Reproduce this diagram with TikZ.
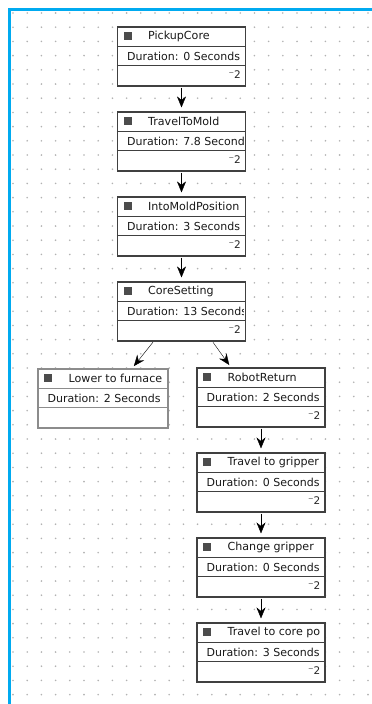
\documentclass[tikz,border=0pt]{standalone}
\usepackage{fontspec}
\setmainfont{DejaVu Sans}
\usetikzlibrary{arrows.meta}

\definecolor{frameblue}{RGB}{0,170,240}

\tikzset{
  task/.style={rectangle, draw=black!75, line width=1.1pt, fill=white,
               minimum width=128pt, minimum height=59pt, inner sep=0pt},
  tasktitle/.style={anchor=west, inner sep=0pt, text=black!90,
                    font=\fontsize{11.1}{11.1}\selectfont},
  taskdur/.style={anchor=west, inner sep=0pt, text=black!90,
                  font=\fontsize{11}{11}\selectfont},
  rowline/.style={draw=black!75, line width=0.9pt},
  cornermark/.style={anchor=east, inner sep=0pt, text=black!85,
                     font=\fontsize{10.5}{10.5}\selectfont},
}

% task box: [options]{name}{position}{title}{duration}{corner mark}
\newcommand\taskbox[6][]{%
  \node (#2) at (#3) [task,#1] {};
  \begin{scope}
    \clip ([xshift=1pt,yshift=-1pt]#2.north west) rectangle ([xshift=-3pt,yshift=1pt]#2.south east);
    \node [tasktitle] at ([xshift=31pt,yshift=-10pt]#2.north west) {#4};
    \node [taskdur]   at ([xshift=10pt,yshift=-29.5pt]#2.north west) {#5};
  \end{scope}
  \draw [rowline,#1] ([yshift=-20pt]#2.north west) -- ([yshift=-20pt]#2.north east);
  \draw [rowline,#1] ([yshift=-39pt]#2.north west) -- ([yshift=-39pt]#2.north east);
  \fill [black!70] ([xshift=7pt,yshift=-6pt]#2.north west) rectangle +(8pt,-8pt);
  \node [cornermark] at ([xshift=-5pt,yshift=-48pt]#2.north east) {#6};
}

\begin{document}
\begin{tikzpicture}
        [x=1pt, y=-1pt, >={Stealth[length=11pt,width=9pt]}]
        \useasboundingbox [fill=white] (0,0) rectangle (372,704);
        % dotted grid
        \foreach \i in {0,...,25}
          \foreach \j in {0,...,48}
            \fill [black!30] (13+14.2*\i,13+14.2*\j) circle (0.9pt);
        \draw [frameblue, line width=3pt] (9,706) -- (9,9) -- (374,9);

        \taskbox{pickup}{181.5,56.5}{PickupCore}{Duration: 0 Seconds}{⁻2}
        \taskbox{tomold}{181.5,141.5}{TravelToMold}{Duration: 7.8 Seconds}{⁻2}
        \taskbox{intomold}{181.5,226.5}{IntoMoldPosition}{Duration: 3 Seconds}{⁻2}
        \taskbox{coreset}{181.5,311.5}{CoreSetting}{Duration: 13 Seconds}{⁻2}
        \taskbox[draw=black!45, minimum width=130pt]{lower}{103,398.5}{Lower to furnace}{Duration: 2 Seconds}{}
        \taskbox{robotret}{261,397.5}{RobotReturn}{Duration: 2 Seconds}{⁻2}
        \taskbox{togripper}{261,482.5}{Travel to gripper}{Duration: 0 Seconds}{⁻2}
        \taskbox{chgripper}{261,567.5}{Change gripper}{Duration: 0 Seconds}{⁻2}
        \taskbox{tocore}{261,652.5}{Travel to core po}{Duration: 3 Seconds}{⁻2}

        \draw [->, shorten >=4pt, shorten <=1pt] (pickup) -- (tomold);
        \draw [->, shorten >=4pt, shorten <=1pt] (tomold) -- (intomold);
        \draw [->, shorten >=4pt, shorten <=1pt] (intomold) -- (coreset);
        \draw [->, shorten >=3pt, shorten <=1pt] ([xshift=-28pt]coreset.south) -- ([xshift=29pt]lower.north);
        \draw [->, shorten >=3pt, shorten <=1pt] ([xshift=31pt]coreset.south) -- ([xshift=-30pt]robotret.north);
        \draw [->, shorten >=4pt, shorten <=1pt] (robotret) -- (togripper);
        \draw [->, shorten >=4pt, shorten <=1pt] (togripper) -- (chgripper);
        \draw [->, shorten >=4pt, shorten <=1pt] (chgripper) -- (tocore);
    \end{tikzpicture}
\end{document}
